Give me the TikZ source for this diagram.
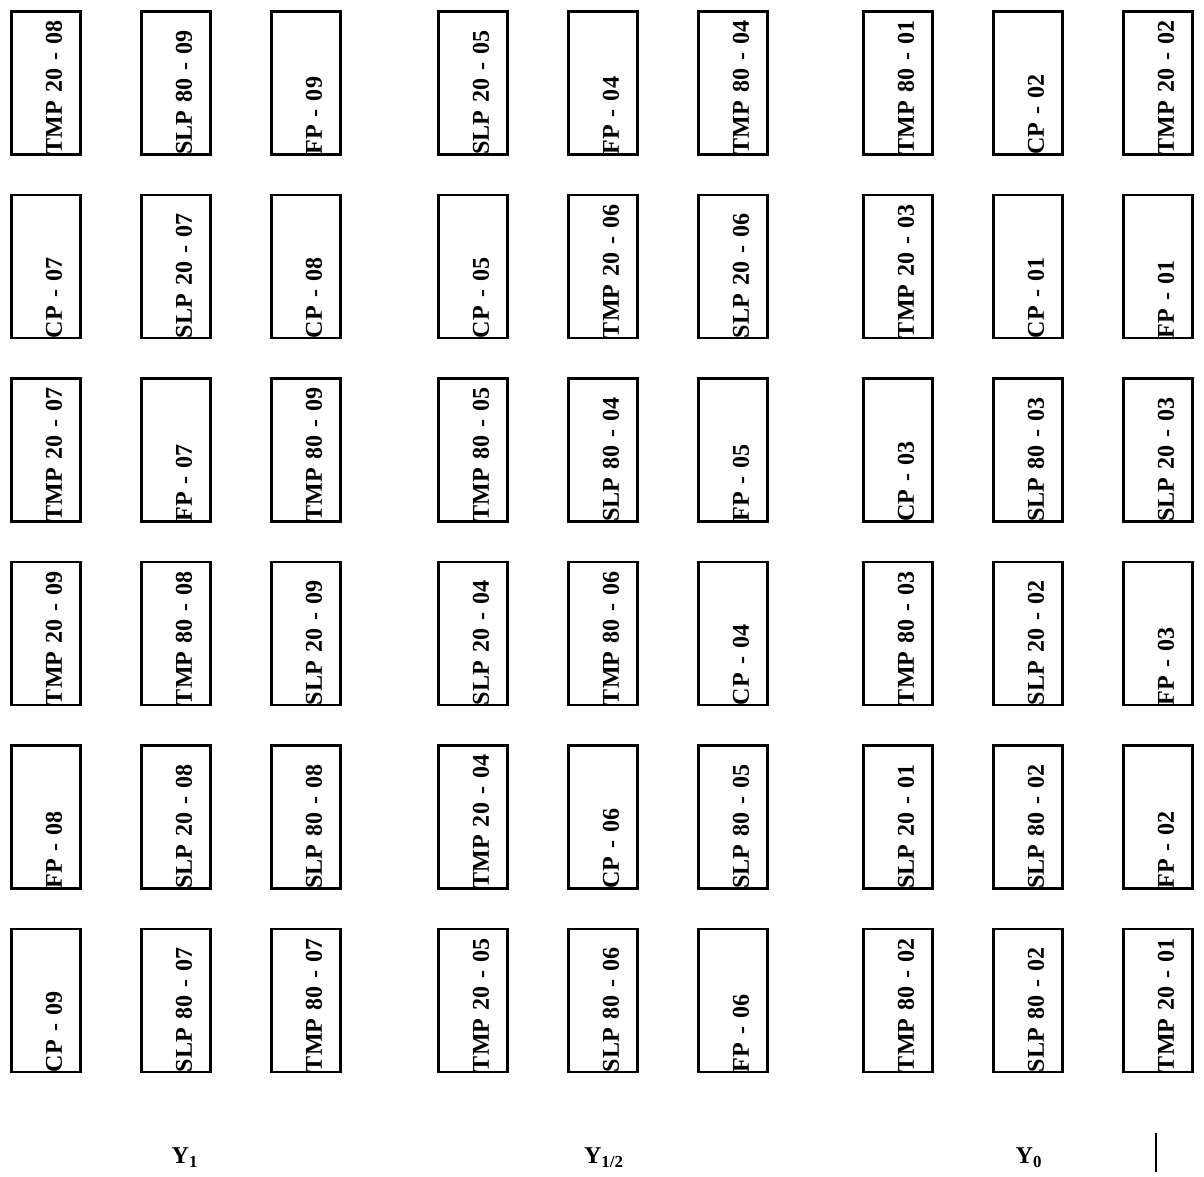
\documentclass[tikz,border=0pt]{standalone}
\usepackage{fontspec}
\setmainfont{Liberation Serif}
\usetikzlibrary{positioning}

\begin{document}
\begin{tikzpicture}[
    plotbox/.style={rectangle, draw=black, line width=1.5pt, rotate=90,
                    minimum width=2.86cm, minimum height=1.38cm, inner sep=0pt,
                    text width=2.86cm, align=left, text height=0.7cm, text depth=0.07cm,
                    font=\fontsize{13.7}{16}\selectfont\bfseries},
    level/.style={font=\fontsize{13.7}{16}\selectfont\bfseries}
]
\useasboundingbox (0,0) rectangle (24.08,-23.52);

\node[plotbox] (r1c1) at (0.92,-1.66)  {TMP 20 - 08};
\node[plotbox] (r1c2) at (3.52,-1.66)  {SLP 80 - 09};
\node[plotbox] (r1c3) at (6.12,-1.66)  {FP - 09};
\node[plotbox] (r1c4) at (9.46,-1.66)  {SLP 20 - 05};
\node[plotbox] (r1c5) at (12.06,-1.66) {FP - 04};
\node[plotbox] (r1c6) at (14.66,-1.66) {TMP 80 - 04};
\node[plotbox] (r1c7) at (17.96,-1.66) {TMP 80 - 01};
\node[plotbox] (r1c8) at (20.56,-1.66) {CP - 02};
\node[plotbox] (r1c9) at (23.16,-1.66) {TMP 20 - 02};

\node[plotbox] (r2c1) at (0.92,-5.33)  {CP - 07};
\node[plotbox] (r2c2) at (3.52,-5.33)  {SLP 20 - 07};
\node[plotbox] (r2c3) at (6.12,-5.33)  {CP - 08};
\node[plotbox] (r2c4) at (9.46,-5.33)  {CP - 05};
\node[plotbox] (r2c5) at (12.06,-5.33) {TMP 20 - 06};
\node[plotbox] (r2c6) at (14.66,-5.33) {SLP 20 - 06};
\node[plotbox] (r2c7) at (17.96,-5.33) {TMP 20 - 03};
\node[plotbox] (r2c8) at (20.56,-5.33) {CP - 01};
\node[plotbox] (r2c9) at (23.16,-5.33) {FP - 01};

\node[plotbox] (r3c1) at (0.92,-9.00)  {TMP 20 - 07};
\node[plotbox] (r3c2) at (3.52,-9.00)  {FP - 07};
\node[plotbox] (r3c3) at (6.12,-9.00)  {TMP 80 - 09};
\node[plotbox] (r3c4) at (9.46,-9.00)  {TMP 80 - 05};
\node[plotbox] (r3c5) at (12.06,-9.00) {SLP 80 - 04};
\node[plotbox] (r3c6) at (14.66,-9.00) {FP - 05};
\node[plotbox] (r3c7) at (17.96,-9.00) {CP - 03};
\node[plotbox] (r3c8) at (20.56,-9.00) {SLP 80 - 03};
\node[plotbox] (r3c9) at (23.16,-9.00) {SLP 20 - 03};

\node[plotbox] (r4c1) at (0.92,-12.67)  {TMP 20 - 09};
\node[plotbox] (r4c2) at (3.52,-12.67)  {TMP 80 - 08};
\node[plotbox] (r4c3) at (6.12,-12.67)  {SLP 20 - 09};
\node[plotbox] (r4c4) at (9.46,-12.67)  {SLP 20 - 04};
\node[plotbox] (r4c5) at (12.06,-12.67) {TMP 80 - 06};
\node[plotbox] (r4c6) at (14.66,-12.67) {CP - 04};
\node[plotbox] (r4c7) at (17.96,-12.67) {TMP 80 - 03};
\node[plotbox] (r4c8) at (20.56,-12.67) {SLP 20 - 02};
\node[plotbox] (r4c9) at (23.16,-12.67) {FP - 03};

\node[plotbox] (r5c1) at (0.92,-16.34)  {FP - 08};
\node[plotbox] (r5c2) at (3.52,-16.34)  {SLP 20 - 08};
\node[plotbox] (r5c3) at (6.12,-16.34)  {SLP 80 - 08};
\node[plotbox] (r5c4) at (9.46,-16.34)  {TMP 20 - 04};
\node[plotbox] (r5c5) at (12.06,-16.34) {CP - 06};
\node[plotbox] (r5c6) at (14.66,-16.34) {SLP 80 - 05};
\node[plotbox] (r5c7) at (17.96,-16.34) {SLP 20 - 01};
\node[plotbox] (r5c8) at (20.56,-16.34) {SLP 80 - 02};
\node[plotbox] (r5c9) at (23.16,-16.34) {FP - 02};

\node[plotbox] (r6c1) at (0.92,-20.01)  {CP - 09};
\node[plotbox] (r6c2) at (3.52,-20.01)  {SLP 80 - 07};
\node[plotbox] (r6c3) at (6.12,-20.01)  {TMP 80 - 07};
\node[plotbox] (r6c4) at (9.46,-20.01)  {TMP 20 - 05};
\node[plotbox] (r6c5) at (12.06,-20.01) {SLP 80 - 06};
\node[plotbox] (r6c6) at (14.66,-20.01) {FP - 06};
\node[plotbox] (r6c7) at (17.96,-20.01) {TMP 80 - 02};
\node[plotbox] (r6c8) at (20.56,-20.01) {SLP 80 - 02};
\node[plotbox] (r6c9) at (23.16,-20.01) {TMP 20 - 01};

\node[level] (yone)  at (3.70,-23.15)  {Y\textsubscript{1}};
\node[level] (yhalf) at (12.08,-23.15) {Y\textsubscript{1/2}};
\node[level] (yzero) at (20.58,-23.15) {Y\textsubscript{0}};

\coordinate (tickt) at (23.12,-22.66);
\coordinate (tickb) at (23.12,-23.44);
\draw[line width=1pt] (tickt) -- (tickb);
\end{tikzpicture}
\end{document}
